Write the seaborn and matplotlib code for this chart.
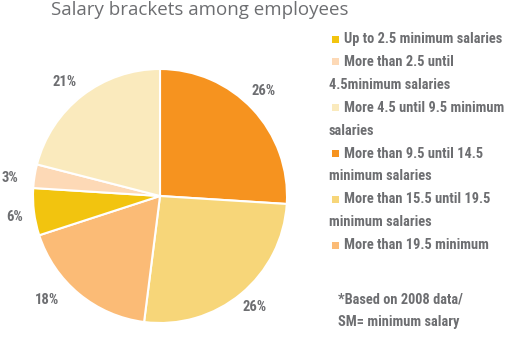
import matplotlib
matplotlib.use("Agg")
import matplotlib.pyplot as plt
import seaborn as sns
import numpy as np
from matplotlib.patches import Rectangle

sns.set_style("white")
plt.rcParams['font.family'] = ['Roboto Condensed', 'DejaVu Sans']

# Data (legend order)
categories = [
    "Up to 2.5 minimum salaries",
    "More than 2.5 until\n4.5minimum salaries",
    "More 4.5 until 9.5 minimum\nsalaries",
    "More than 9.5 until 14.5\nminimum salaries",
    "More than 15.5 until 19.5\nminimum salaries",
    "More than 19.5 minimum",
]
values = [6, 3, 21, 26, 26, 18]
colors = ["#f2c40f", "#fdd9b6", "#faeabd", "#f6931f", "#f7d679", "#fbbb76"]
# clockwise order of slices starting at 12 o'clock
pie_order = [3, 4, 5, 0, 1, 2]
title = "Salary brackets among employees"
footnote = ["*Based on 2008 data/", "SM= minimum salary"]

gray = "#6d6e71"
W, H = 506, 338
fig = plt.figure(figsize=(W / 100, H / 100), dpi=100)

# pie axes: centre (160,196) px, radius 127 px
R = 127
cx, cy = 160, 196
side = 2.5 * R
ax = fig.add_axes([(cx - side / 2) / W, (H - cy - side / 2) / H, side / W, side / H])
vals = [values[i] for i in pie_order]
cols = [colors[i] for i in pie_order]
wedges, texts, autotexts = ax.pie(
    vals, colors=cols, startangle=90, counterclock=False,
    autopct=lambda p: f"{p:.0f}%", pctdistance=1.17,
    wedgeprops=dict(edgecolor="white", linewidth=1.5),
    textprops=dict(color=gray, fontsize=10.5, fontweight="bold"),
)
# small angular nudges of label placement (style only)
label_shift_deg = [2, 1, -8, 1, 2, 2]
label_radius = [1.16, 1.15, 1.21, 1.16, 1.19, 1.17]
for w, t, dθ, r in zip(wedges, autotexts, label_shift_deg, label_radius):
    ang = np.deg2rad((w.theta1 + w.theta2) / 2 + dθ)
    t.set_position((r * np.cos(ang), r * np.sin(ang)))
ax.set_xlim(-1.25, 1.25)
ax.set_ylim(-1.25, 1.25)
ax.set_aspect("equal")
ax.axis("off")

fig.text(51 / W, 1 - 10 / H, title, fontsize=13.5, color=gray,
         family=["Open Sans", "DejaVu Sans"], va="center", ha="left")

# legend drawn manually
fs = 10.4
line_h = 22.9
y = 39
for lab, c in zip(categories, colors):
    lines = lab.split("\n")
    fig.patches.append(Rectangle((332 / W, 1 - (y + 3.5) / H), 7 / W, 7 / H,
                                 transform=fig.transFigure, facecolor=c, edgecolor="none"))
    fig.text(344 / W, 1 - y / H, lines[0], fontsize=fs, fontweight="bold",
             color=gray, va="center", ha="left")
    y += line_h
    for extra in lines[1:]:
        fig.text(329 / W, 1 - y / H, extra, fontsize=fs, fontweight="bold",
                 color=gray, va="center", ha="left")
        y += line_h

fy = 299
for t in footnote:
    fig.text(338 / W, 1 - fy / H, t, fontsize=fs, fontweight="bold",
             color=gray, va="center", ha="left")
    fy += 23

fig.savefig("out.png", dpi=100)
